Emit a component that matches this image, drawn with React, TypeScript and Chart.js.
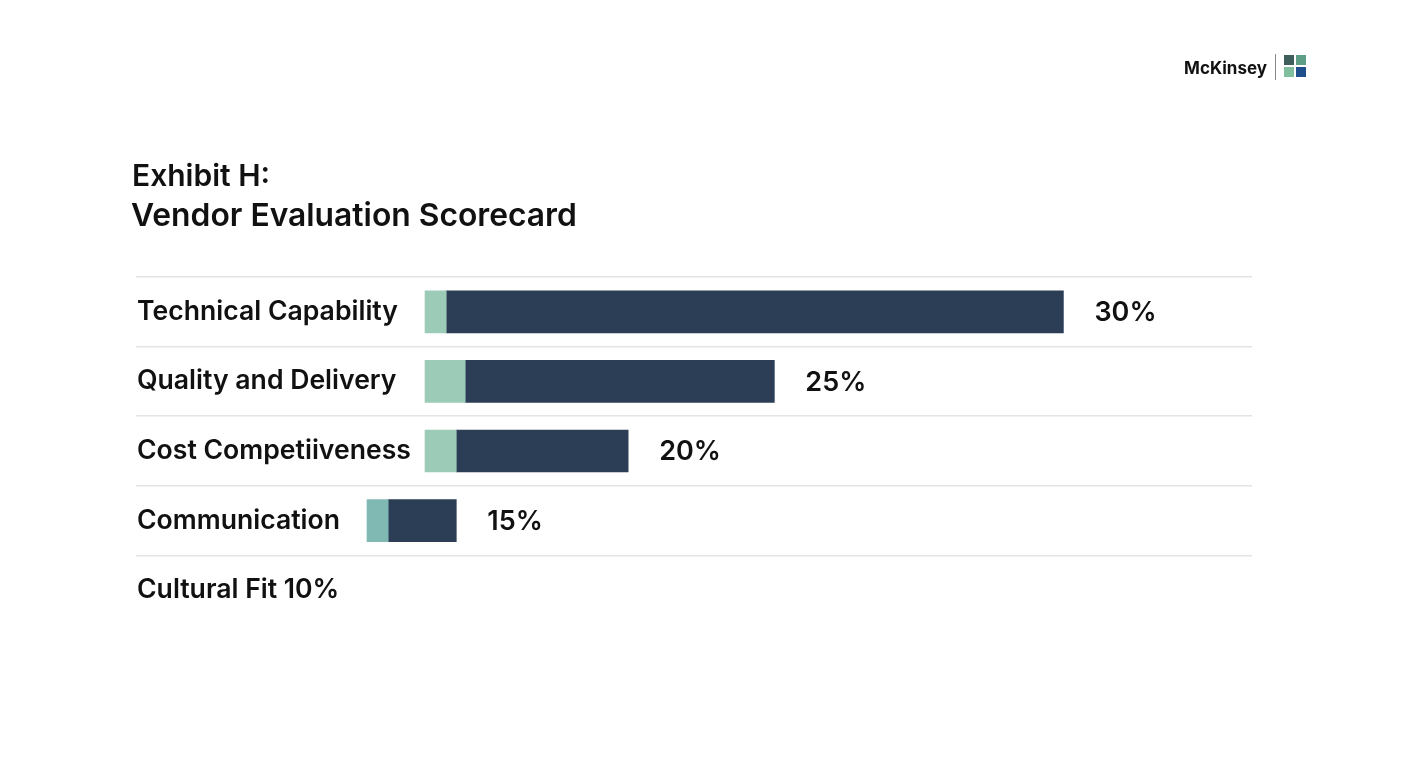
import React, { useEffect, useRef } from "react";
import { Chart, registerables } from "chart.js";

Chart.register(...registerables);

const categories = [
  "Technical Capability",
  "Quality and Delivery",
  "Cost Competiiveness",
  "Communication",
  "Cultural Fit 10%",
];
const accentSegments: ([number, number] | null)[] = [
  [25.9, 27.8],
  [25.9, 29.5],
  [25.9, 28.7],
  [20.7, 22.6],
  null,
];
const mainSegments: ([number, number] | null)[] = [
  [27.8, 83.1],
  [29.5, 57.2],
  [28.7, 44.1],
  [22.6, 28.7],
  null,
];
const valueLabels = ["30%", "25%", "20%", "15%", ""];
const accentColors = ["#9ccbb8", "#9ccbb8", "#9ccbb8", "#80b8b4", "#9ccbb8"];

const FONT = "Inter, Roboto, 'Noto Sans', 'DejaVu Sans', sans-serif";

const decorPlugin = {
  id: "decor",
  afterDatasetsDraw(chart: any) {
    const ctx = chart.ctx;
    ctx.save();
    // value labels
    const meta = chart.getDatasetMeta(1);
    ctx.fillStyle = "#111111";
    ctx.font = `600 27px ${FONT}`;
    ctx.textAlign = "left";
    ctx.textBaseline = "middle";
    meta.data.forEach((el: any, i: number) => {
      if (!mainSegments[i] || !valueLabels[i]) return;
      ctx.fillText(valueLabels[i], el.x + 31, el.y + 1);
    });
    // title
    ctx.textBaseline = "alphabetic";
    ctx.fillStyle = "#111111";
    ctx.font = `600 30px ${FONT}`;
    ctx.fillText("Exhibit H:", 132, 186);
    ctx.font = `600 31.8px ${FONT}`;
    ctx.fillText("Vendor Evaluation Scorecard", 131, 226);
    // logo
    ctx.font = `bold 17px ${FONT}`;
    ctx.textAlign = "right";
    ctx.fillStyle = "#111111";
    ctx.fillText("McKinsey", 1267, 74);
    ctx.strokeStyle = "#8a8a8a";
    ctx.lineWidth = 1;
    ctx.beginPath();
    ctx.moveTo(1275.5, 54);
    ctx.lineTo(1275.5, 80);
    ctx.stroke();
    const sq = [
      ["#3e5f5b", 1284, 55],
      ["#5e9e86", 1296, 55],
      ["#7fbf9e", 1284, 67],
      ["#1f4f8c", 1296, 67],
    ] as const;
    sq.forEach(([c, x, y]) => {
      ctx.fillStyle = c;
      ctx.fillRect(x, y, 10, 10);
    });
    ctx.restore();
  },
};

export default function App() {
  const ref = useRef<HTMLCanvasElement>(null);
  useEffect(() => {
    document.body.style.margin = "0";
    const chart = new Chart(ref.current!, {
      type: "bar",
      data: {
        labels: categories,
        datasets: [
          {
            label: "accent",
            data: accentSegments as any,
            backgroundColor: accentColors,
            barThickness: 42,
            grouped: false,
            borderSkipped: false,
          },
          {
            label: "main",
            data: mainSegments as any,
            backgroundColor: "#2c3e55",
            barThickness: 42,
            grouped: false,
            borderSkipped: false,
          },
        ],
      },
      options: {
        indexAxis: "y",
        animation: false,
        responsive: false,
        maintainAspectRatio: false,
        layout: { padding: { left: 134, right: 156, top: 277, bottom: 143 } },
        plugins: {
          legend: { display: false },
          tooltip: { enabled: false },
          title: { display: false },
        },
        scales: {
          x: { display: false, min: 0, max: 100 },
          y: {
            border: { display: false },
            grid: {
              offset: true,
              drawTicks: false,
              lineWidth: 1.5,
              color: (c: any) => (c.type === "tick" ? "#e4e4e4" : "rgba(0,0,0,0)"),
            },
            ticks: {
              mirror: true,
              padding: 1,
              color: "#111111",
              font: { family: FONT, size: 26.6, weight: "600" as any },
            },
          },
        },
      },
      plugins: [decorPlugin],
    });
    return () => chart.destroy();
  }, []);
  return (
    <div style={{ width: 1408, height: 768, background: "#ffffff" }}>
      <canvas ref={ref} width={1408} height={768} style={{ display: "block" }} />
    </div>
  );
}
